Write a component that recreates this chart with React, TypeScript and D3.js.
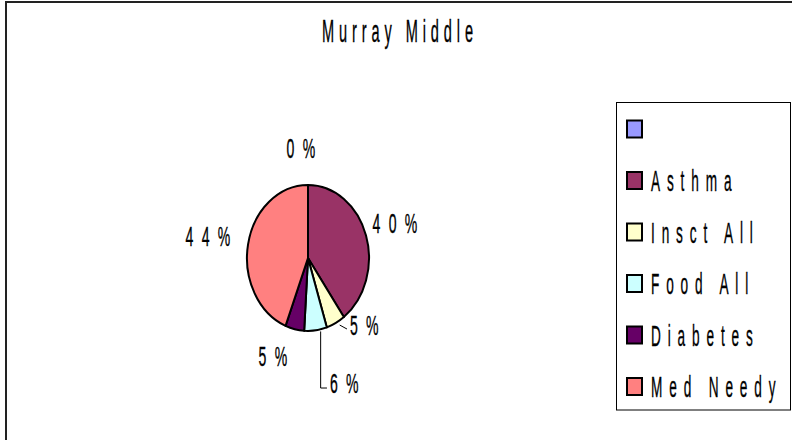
import * as d3 from 'd3';

const TITLE = 'Murray Middle';
const categories = ['', 'Asthma', 'Insct All', 'Food All', 'Diabetes', 'Med Needy'];
const values = [0, 40, 5, 6, 5, 44];
const colors = ['#9999FF', '#993366', '#FFFFCC', '#CCFFFF', '#660066', '#FF8080'];

const WIDTH = 792;
const HEIGHT = 440;
const FONT = '"Liberation Sans", Arial, sans-serif';

// pie is drawn as a unit circle and stretched into the ellipse
const PIE = { cx: 308, cy: 258, rx: 61, ry: 73 };
const LEGEND = { x: 616.5, y: 102.5, w: 174, h: 307.5, rowTop: 129, rowGap: 51.5 };

const deg = (d: number) => (d * Math.PI) / 180;

// crowded slices: label point in unit-circle space, leaders for the small ones
const labelOverride: Record<number, { angle: number; r: number; leader: boolean }> = {
  2: { angle: deg(146.7), r: 1.164, leader: true },
  3: { angle: deg(170.1), r: 1.808, leader: true },
  4: { angle: deg(200.5), r: 1.45, leader: false },
};

type SqProps = {
  x: number;
  y: number;
  size: number;
  sx: number;
  spacing: number;
  anchor?: 'start' | 'middle' | 'end';
  children: string;
};

// the original uses a tall, very condensed face with wide tracking
const Squished = ({ x, y, size, sx, spacing, anchor = 'start', children }: SqProps) => (
  <text
    transform={`translate(${x},${y}) scale(${sx},1)`}
    fontFamily={FONT}
    fontSize={size}
    letterSpacing={spacing}
    textAnchor={anchor}
    fill="#000"
    stroke="#000"
    strokeWidth={0.35}
  >
    {children}
  </text>
);

const App = () => {
  const pie = d3
    .pie<number>()
    .sort(null)
    .value(d => d)
    .startAngle(0)
    .endAngle(2 * Math.PI);
  const arcs = pie(values);
  const arc = d3.arc<d3.PieArcDatum<number>>().innerRadius(0).outerRadius(1);

  const toScreen = (angle: number, r: number): [number, number] => [
    PIE.cx + PIE.rx * r * Math.sin(angle),
    PIE.cy - PIE.ry * r * Math.cos(angle),
  ];

  const total = d3.sum(values);
  const pct = (v: number) => `${Math.round((v / total) * 100)}%`;

  const labels = arcs.map((a, i) => {
    const mid = (a.startAngle + a.endAngle) / 2;
    const ov = labelOverride[i];
    const text = pct(values[i]);
    if (ov && ov.leader) {
      const [lx, ly] = toScreen(ov.angle, ov.r);
      const [ex, ey] = toScreen(mid, 1);
      const path =
        i === 3
          ? `M${ex + 5},${ey + 1}V${ly}H${lx}`
          : `M${ex + 4},${ey + 2}L${lx},${ly}`;
      return (
        <g key={`lbl-${i}`}>
          <path d={path} fill="none" stroke="#000" strokeWidth={1} />
          <Squished x={lx + 3} y={ly + (i === 3 ? 5 : 6)} size={27} sx={0.52} spacing={16}>
            {text}
          </Squished>
        </g>
      );
    }
    const [lx, ly] = ov ? toScreen(ov.angle, ov.r) : toScreen(mid, 1.5);
    const s = Math.sin(ov ? ov.angle : mid);
    const dx = ov ? 0 : s > 0.1 ? 4 : s < -0.1 ? -6 : -3;
    return (
      <Squished key={`lbl-${i}`} x={lx + dx} y={ly + 9} size={27} sx={0.52} spacing={16} anchor="middle">
        {text}
      </Squished>
    );
  });

  return (
    <svg
      width={WIDTH}
      height={HEIGHT}
      style={{ position: 'absolute', left: 0, top: 0, background: '#fff' }}
    >
      <rect x={6} y={2} width={WIDTH + 20} height={HEIGHT + 20} fill="#fff" stroke="#222" strokeWidth={2} />
      <Squished x={400} y={42} size={31} sx={0.47} spacing={10.4} anchor="middle">
        {TITLE}
      </Squished>

      <g transform={`translate(${PIE.cx},${PIE.cy}) scale(${PIE.rx},${PIE.ry})`}>
        {arcs.map((a, i) => (
          <path
            key={`slice-${i}`}
            d={arc(a) ?? ''}
            fill={colors[i]}
            stroke="#000"
            strokeWidth={2}
            strokeLinejoin="round"
            vectorEffect="non-scaling-stroke"
          />
        ))}
      </g>
      {labels}

      <rect x={LEGEND.x} y={LEGEND.y} width={LEGEND.w} height={LEGEND.h} fill="#fff" stroke="#000" strokeWidth={1} />
      {categories.map((c, i) => {
        const cy = LEGEND.rowTop + i * LEGEND.rowGap;
        return (
          <g key={`leg-${i}`}>
            <rect x={627} y={cy - 8.5} width={15} height={17} fill={colors[i]} stroke="#000" strokeWidth={2} />
            <Squished x={651} y={cy + 10.5} size={29} sx={0.47} spacing={14.6}>
              {c}
            </Squished>
          </g>
        );
      })}
    </svg>
  );
};

export default App;
